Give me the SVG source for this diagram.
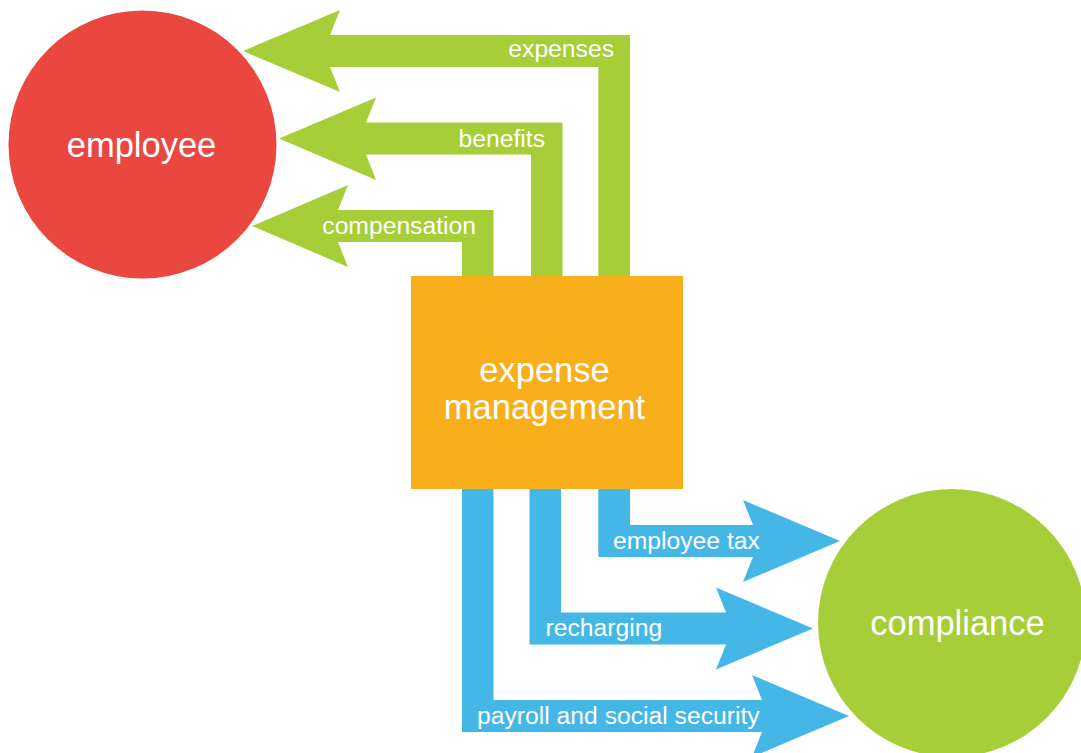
<svg xmlns="http://www.w3.org/2000/svg" width="1081" height="753" viewBox="0 0 1081 753">
<style>
.g{fill:#A6CE39}
.b{fill:#45B7E7}
.lbl{font-family:"Liberation Sans",Arial,Helvetica,sans-serif;font-size:24.7px;fill:#FFFFFF}
.node{font-family:"Liberation Sans",Arial,Helvetica,sans-serif;font-size:34.5px;fill:#FFFFFF;text-anchor:middle}
</style>
<rect width="1081" height="753" fill="#FFFFFF"/>
<g id="connectors">
<g id="c-expenses">
<path class="g" d="M598.3,276 V67 H330 L340,92 L243,51 L340,10 L330,35 H630 V276 Z"/>
<text class="lbl" x="614" y="57" text-anchor="end">expenses</text>
</g>
<g id="c-benefits">
<path class="g" d="M531,276 V154.5 H366 L376,180 L279,138.5 L376,97.5 L366,122.5 H562.5 V276 Z"/>
<text class="lbl" x="545" y="146.5" text-anchor="end">benefits</text>
</g>
<g id="c-compensation">
<path class="g" d="M462,276 V242 H338 L348,267 L252,226 L348,185 L338,210 H493.5 V276 Z"/>
<text class="lbl" x="476" y="233.5" text-anchor="end">compensation</text>
</g>
<g id="c-employeetax">
<path class="b" d="M598.3,489 V557 H753 L743,582 L840,541 L743,500 L753,525 H630 V489 Z"/>
<text class="lbl" x="613" y="548.5">employee tax</text>
</g>
<g id="c-recharging">
<path class="b" d="M529.5,489 V644.5 H726 L716,669.5 L813,628.5 L716,587.5 L726,612.5 H561 V489 Z"/>
<text class="lbl" x="545.5" y="635.5">recharging</text>
</g>
<g id="c-payroll">
<path class="b" d="M462,489 V732 H762 L752,757 L849,716 L752,675 L762,700 H493.5 V489 Z"/>
<text class="lbl" x="477" y="723.5">payroll and social security</text>
</g>
</g>
<g id="employee">
<circle cx="142.5" cy="144.5" r="134" fill="#EA4741"/>
<text class="node" x="141.5" y="157">employee</text>
</g>
<g id="expense-management">
<rect x="411" y="276" width="272" height="213" fill="#F9AF1B"/>
<text class="node" x="544.5" y="381.5">expense</text>
<text class="node" x="544.5" y="418.5">management</text>
</g>
<g id="compliance">
<circle cx="952" cy="623" r="134" fill="#A6CE39"/>
<text class="node" x="957.5" y="635">compliance</text>
</g>
</svg>
